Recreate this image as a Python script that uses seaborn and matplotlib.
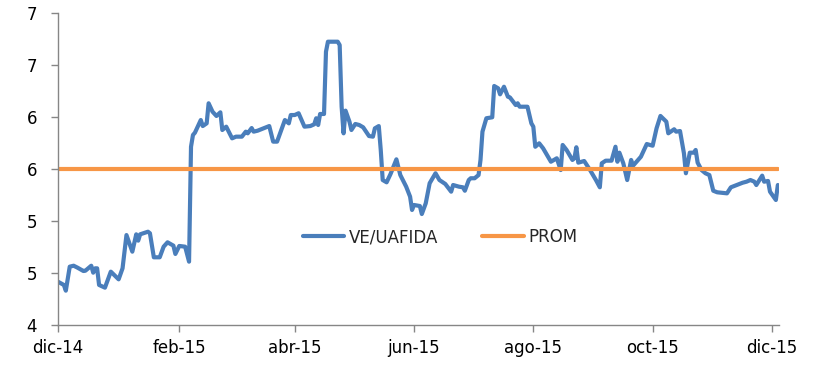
import pandas as pd
import numpy as np
import matplotlib
matplotlib.use("Agg")
import matplotlib.pyplot as plt
import matplotlib.dates as mdates
import seaborn as sns

# ---- data ----
start_date = "2014-12-01"
day_offsets = [0, 3, 4, 6, 8, 10, 13, 14, 17, 18, 19, 20, 21, 24, 27, 31, 33, 35, 38, 40,
               41, 42, 46, 47, 49, 52, 54, 56, 59, 60, 62, 65, 67, 68, 69, 70, 73, 74, 76, 77,
               79, 81, 83, 84, 86, 89, 91, 94, 96, 97, 99, 100, 102, 105, 108, 110, 112, 116, 118, 119,
               121, 123, 126, 129, 131, 132, 133, 134, 136, 137, 138, 143, 144, 145, 146, 147, 149, 150, 152, 154,
               156, 159, 161, 162, 164, 165, 166, 168, 170, 173, 175, 178, 180, 181, 182, 185, 186, 188, 190, 193,
               195, 198, 201, 202, 205, 207, 208, 210, 211, 213, 215, 216, 217, 219, 222, 223, 225, 226, 228, 230,
               231, 234, 235, 236, 240, 242, 243, 244, 246, 248, 250, 252, 255, 257, 258, 260, 263, 264, 265, 266,
               269, 272, 275, 277, 278, 280, 283, 285, 286, 287, 289, 291, 293, 294, 298, 301, 304, 306, 308, 311,
               312, 315, 316, 318, 320, 321, 323, 325, 326, 327, 329, 331, 333, 335, 337, 342, 344, 347, 350, 352,
               354, 356, 357, 360, 361, 363, 364, 367, 368]
ve_uafida = [4.416, 4.385, 4.330, 4.561, 4.570, 4.551, 4.519, 4.522, 4.570, 4.503, 4.545, 4.545, 4.385, 4.359, 4.513, 4.439, 4.545, 4.865, 4.705, 4.872,
             4.811, 4.872, 4.897, 4.882, 4.651, 4.651, 4.753, 4.795, 4.763, 4.683, 4.760, 4.753, 4.609, 5.714, 5.827, 5.849, 5.971, 5.913, 5.939, 6.132,
             6.051, 6.010, 6.045, 5.875, 5.907, 5.795, 5.811, 5.811, 5.859, 5.843, 5.894, 5.859, 5.868, 5.891, 5.913, 5.763, 5.763, 5.971, 5.939, 6.019,
             6.019, 6.036, 5.907, 5.913, 5.930, 5.988, 5.923, 6.029, 6.029, 6.628, 6.724, 6.724, 6.692, 6.099, 5.843, 6.061, 5.955, 5.875, 5.933, 5.923,
             5.901, 5.817, 5.811, 5.891, 5.913, 5.683, 5.394, 5.372, 5.452, 5.593, 5.442, 5.330, 5.234, 5.106, 5.154, 5.144, 5.067, 5.170, 5.363, 5.459,
             5.394, 5.356, 5.282, 5.346, 5.330, 5.324, 5.291, 5.394, 5.411, 5.411, 5.442, 5.587, 5.859, 5.988, 5.997, 6.298, 6.276, 6.218, 6.291, 6.195,
             6.189, 6.115, 6.132, 6.099, 6.099, 5.939, 5.907, 5.714, 5.747, 5.699, 5.635, 5.570, 5.603, 5.490, 5.731, 5.683, 5.587, 5.603, 5.709, 5.561,
             5.577, 5.490, 5.394, 5.324, 5.555, 5.580, 5.580, 5.714, 5.570, 5.657, 5.555, 5.394, 5.587, 5.532, 5.618, 5.740, 5.724, 5.891, 6.010, 5.955,
             5.843, 5.882, 5.859, 5.865, 5.651, 5.459, 5.657, 5.657, 5.683, 5.561, 5.490, 5.459, 5.442, 5.291, 5.276, 5.266, 5.324, 5.346, 5.368, 5.378,
             5.394, 5.378, 5.346, 5.436, 5.378, 5.385, 5.282, 5.202, 5.346]
prom_value = 5.5

x_tick_dates = ["2014-12-01", "2015-02-01", "2015-04-01", "2015-06-01", "2015-08-01", "2015-10-01", "2015-12-01"]
x_tick_labels = ["dic-14", "feb-15", "abr-15", "jun-15", "ago-15", "oct-15", "dic-15"]
y_ticks = [4.0, 4.5, 5.0, 5.5, 6.0, 6.5, 7.0]
y_tick_labels = ["4", "5", "5", "6", "6", "7", "7"]

# ---- build frame ----
dates = pd.Timestamp(start_date) + pd.to_timedelta(day_offsets, unit="D")
df = pd.DataFrame({"fecha": dates, "VE/UAFIDA": ve_uafida})
df["PROM"] = prom_value
long_df = df.melt(id_vars="fecha", var_name="serie", value_name="valor")

sns.set_theme(style="white")
plt.rcParams["font.family"] = ["DejaVu Sans"]

fig = plt.figure(figsize=(8.14, 3.84), dpi=100)
ax = fig.add_axes([58 / 814, 1 - 325 / 384, (779 - 58) / 814, (325 - 13) / 384])

sns.lineplot(data=long_df, x="fecha", y="valor", hue="serie",
             palette={"VE/UAFIDA": "#4A7EBB", "PROM": "#F79646"},
             linewidth=3.0, ax=ax, legend=True)

ax.set_xlim(pd.Timestamp(start_date), pd.Timestamp(start_date) + pd.Timedelta(days=368.6))
ax.set_ylim(4.0, 7.0)
ax.set_xticks(pd.to_datetime(x_tick_dates))
ax.set_xticklabels(x_tick_labels)
ax.set_yticks(y_ticks)
ax.set_yticklabels(y_tick_labels)
ax.set_xlabel("")
ax.set_ylabel("")

for s in ["top", "right"]:
    ax.spines[s].set_visible(False)
for s in ["left", "bottom"]:
    ax.spines[s].set_color("#868686")
    ax.spines[s].set_linewidth(1.0)
ax.tick_params(axis="both", which="both", direction="out", length=5, width=1,
               color="#868686", labelsize=12, labelcolor="#000000", bottom=True, left=True)
ax.tick_params(axis="x", pad=5)
ax.tick_params(axis="y", pad=10)
ax.grid(False)

handles, labels = ax.get_legend_handles_labels()
ax.legend(handles, labels, loc="center", bbox_to_anchor=(0.53, 0.282), ncol=2,
          frameon=False, fontsize=12, handlelength=2.5, columnspacing=2.6, handletextpad=0.3)

fig.savefig("out.png", dpi=100)
